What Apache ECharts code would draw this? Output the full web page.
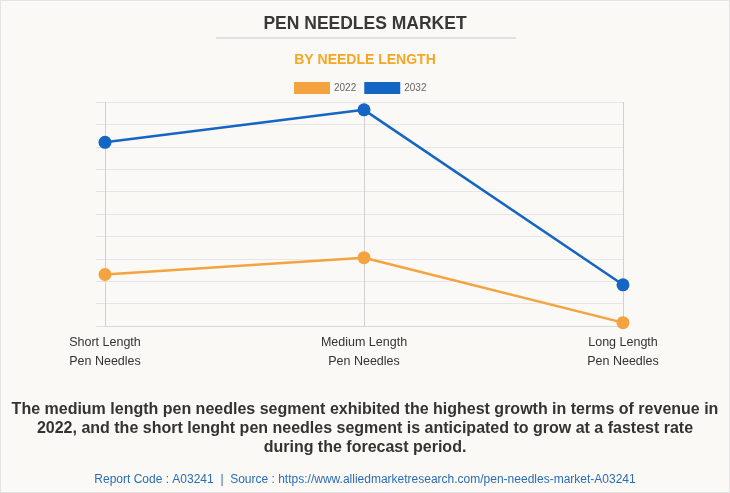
<!DOCTYPE html>
<html>
<head>
<meta charset="utf-8">
<script src="https://cdn.jsdelivr.net/npm/echarts@6/dist/echarts.min.js"></script>
<style>
html,body{margin:0;padding:0;background:#faf9f5;}
#c{width:728px;height:491px;border:1px solid #e4e4e4;}
</style>
</head>
<body>
<div id="c"></div>
<script>
const categories = ['Short Length\nPen Needles', 'Medium Length\nPen Needles', 'Long Length\nPen Needles'];
const series2022 = [2.3, 3.05, 0.15];
const series2032 = [8.2, 9.65, 1.84];
const seriesNames = ['2022', '2032'];

const chart = echarts.init(document.getElementById('c'), null, {renderer: 'canvas'});
const font = '"Liberation Sans", Arial, sans-serif';
chart.setOption({
  backgroundColor: '#faf9f5',
  animation: false,
  title: [
    {text: 'PEN NEEDLES MARKET', left: 'center', top: 9,
     textStyle: {fontFamily: font, fontSize: 17.5, fontWeight: 'bold', color: '#383838'}},
    {text: 'BY NEEDLE LENGTH', left: 'center', top: 47,
     textStyle: {fontFamily: font, fontSize: 14, fontWeight: 'bold', color: '#f5a623'}},
    {text: 'The medium length pen needles segment exhibited the highest growth in terms of revenue in\n2022, and the short lenght pen needles segment is anticipated to grow at a fastest rate\nduring the forecast period.',
     left: 'center', top: 394,
     textStyle: {fontFamily: font, fontSize: 16, fontWeight: 'bold', color: '#333', lineHeight: 19, align: 'center'}},
    {text: 'Report Code : A03241  |  Source : https://www.alliedmarketresearch.com/pen-needles-market-A03241',
     left: 'center', top: 468,
     textStyle: {fontFamily: font, fontSize: 12, fontWeight: 'normal', color: '#2b6cb5'}}
  ],
  graphic: [
    {type: 'line', shape: {x1: 215, y1: 37, x2: 515, y2: 37}, style: {stroke: '#c8c8c8', lineWidth: 1}}
  ],
  legend: {
    top: 76, left: 288,
    itemWidth: 36, itemHeight: 12, itemGap: 8,
    icon: 'rect',
    textStyle: {fontFamily: font, fontSize: 10, color: '#666', padding: [0, 0, 0, -1]},
    data: seriesNames
  },
  grid: {left: 104, right: 106, top: 101, bottom: 166},
  xAxis: {
    type: 'category', boundaryGap: false, data: categories,
    axisLine: {show: true, lineStyle: {color: '#d8d8d8'}},
    axisTick: {show: false},
    splitLine: {show: true, lineStyle: {color: '#d0d0d0'}},
    axisLabel: {fontFamily: font, fontSize: 12.5, color: '#333', lineHeight: 19, margin: 7}
  },
  yAxis: {
    type: 'value', min: 0, max: 10, interval: 1,
    axisLine: {show: false},
    axisTick: {show: true, length: 9, lineStyle: {color: '#e2e2e2'}},
    axisLabel: {show: false},
    splitLine: {show: true, lineStyle: {color: '#e6e6e6'}}
  },
  series: [
    {name: seriesNames[0], type: 'line', data: series2022, color: '#f4a340',
     symbol: 'circle', symbolSize: 13, lineStyle: {width: 2.5}},
    {name: seriesNames[1], type: 'line', data: series2032, color: '#1565c4',
     symbol: 'circle', symbolSize: 13, lineStyle: {width: 2.5}}
  ]
});
</script>
</body>
</html>
